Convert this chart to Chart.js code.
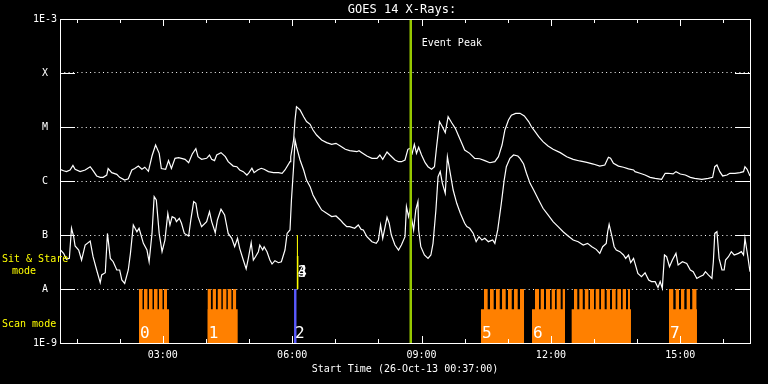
<!DOCTYPE html>
<html>
<head>
<meta charset="utf-8">
<title>GOES 14 X-Rays</title>
<script src="https://cdn.jsdelivr.net/npm/chart.js@4"></script>
<style>
  html, body { margin: 0; padding: 0; background: #000; }
  canvas { display: block; }
</style>
</head>
<body>
<canvas id="chart" width="768" height="384"></canvas>
<script>
// times: minutes after 00:00 UT, 26-Oct-13 ; flux: micro W/m^2 (1e-6)
const longTimes = [37,42,46,51,55,58,65,72,79,83,88,93,97,102,104,109,116,120,127,132,137,141,146,151,155,160,165,170,175,178,184,188,192,
  197,202,206,211,216,221,226,229,234,241,245,248,252,255,261,267,271,278,283,287,292,297,300,304,307,312,317,321,327,334,341,346,350,357,
  358,362,364,366,371,376,380,385,389,394,401,408,415,421,427,434,440,450,453,457,464,471,478,482,486,492,496,503,508,512,
  517,521,524,527,530,533,536,540,545,549,554,558,561,565,569,573,577,582,587,591,596,600,607,614,621,628,635,642,647,652,656,661,665,671,677,
  683,689,693,698,703,709,716,723,733,742,751,760,770,779,788,795,800,803,807,814,821,828,835,
  837,844,851,858,865,874,879,883,890,894,900,907,914,920,930,939,945,948,951,955,959,965,969,976,983,988,990,993,995,997];
const longFlux = [1.65,1.55,1.49,1.60,1.95,1.65,1.49,1.60,1.84,1.55,1.24,1.17,1.17,1.29,1.70,1.43,1.33,1.17,1.04,1.10,1.60,1.70,1.89,1.65,1.80,1.51,2.90,4.64,3.25,1.70,1.65,2.38,1.70,
  2.63,2.70,2.63,2.52,2.18,3.16,3.97,2.82,2.52,2.63,3.03,2.52,2.38,3.03,3.35,2.82,2.28,1.89,1.84,1.60,1.49,1.29,1.43,1.72,1.43,1.60,1.72,1.65,1.49,1.43,1.43,1.39,1.60,2.28,
  2.82,5.74,13.5,23.8,20.7,15.5,12.6,11.2,8.80,7.11,5.74,5.13,4.77,4.98,4.45,3.86,3.65,3.49,3.65,3.35,2.90,2.63,2.63,3.03,2.52,3.44,3.03,2.45,2.28,2.28,
  2.45,3.86,4.03,3.25,4.77,3.25,4.20,3.03,2.18,1.84,1.65,1.84,4.32,12.6,10.1,7.85,15.5,12.0,9.45,7.11,4.98,3.75,3.25,2.63,2.58,2.38,2.18,2.28,2.82,4.64,8.80,13.5,16.6,17.9,17.9,
  16.0,12.6,10.1,8.20,6.62,5.35,4.45,3.86,3.35,2.82,2.52,2.35,2.22,2.06,1.89,1.98,2.75,2.63,2.12,1.89,1.80,1.68,1.60,
  1.49,1.39,1.29,1.17,1.12,1.07,1.39,1.39,1.35,1.49,1.35,1.29,1.17,1.12,1.07,1.12,1.17,1.84,1.98,1.49,1.24,1.29,1.39,1.39,1.43,1.49,1.84,1.65,1.43,1.24];

const shortTimes = [37,42,46,50,53,56,58,63,67,72,79,83,88,93,95,100,103,107,111,116,120,123,127,132,135,139,144,147,153,158,161,165,168,171,175,179,183,187,190,193,
  197,199,203,206,210,216,219,223,226,229,234,241,245,248,253,256,261,266,271,276,280,284,287,292,296,299,303,306,309,313,315,319,321,325,329,332,336,341,345,350,353,357,
  359,362,364,366,371,376,380,385,389,394,401,408,415,421,427,431,436,440,447,452,456,459,464,471,477,480,483,486,492,495,498,503,508,512,517,
  519,522,524,529,532,535,536,539,544,549,553,556,560,563,566,569,573,576,580,584,589,594,600,603,607,612,616,620,624,628,633,639,642,646,651,655,658,663,668,674,677,
  682,686,691,696,703,709,716,723,730,737,744,751,758,765,771,777,783,788,792,797,799,801,805,808,811,816,821,824,828,831,835,837,
  841,846,851,856,860,865,869,872,875,878,881,885,889,894,897,903,909,914,918,923,927,932,935,939,944,946,948,951,954,958,961,963,967,971,975,981,985,988,990,994,997];
const shortFlux = [0.054,0.0457,0.0354,0.0369,0.133,0.0931,0.0625,0.0527,0.0344,0.0652,0.0773,0.0396,0.0225,0.0131,0.0182,0.0200,0.107,0.0369,0.0320,0.0225,0.0225,0.0147,0.0127,0.0225,0.0457,0.153,0.115,0.133,0.0700,0.0527,0.0320,0.107,0.513,0.445,0.107,0.0491,0.0807,0.252,0.153,0.219,
  0.204,0.177,0.204,0.165,0.107,0.0957,0.190,0.415,0.386,0.219,0.143,0.177,0.271,0.177,0.110,0.190,0.300,0.235,0.107,0.0867,0.0607,0.0867,0.0566,0.0344,0.0235,0.0369,0.0720,0.0344,0.0396,0.0491,0.0652,0.0527,0.0607,0.0491,0.0344,0.0290,0.0334,0.0307,0.0320,0.0527,0.107,0.124,
  0.445,1.84,5.74,4.32,2.45,1.60,1.04,0.785,0.551,0.415,0.291,0.252,0.219,0.225,0.190,0.165,0.143,0.143,0.133,0.153,0.127,0.124,0.0931,0.0752,0.0700,0.0807,0.153,0.0867,0.213,0.165,0.0999,0.0652,0.0527,0.0652,0.0931,
  0.335,0.219,0.291,0.124,0.291,0.415,0.124,0.0607,0.0426,0.0369,0.0426,0.0700,0.291,1.20,1.49,0.905,0.591,2.82,1.39,0.681,0.386,0.252,0.165,0.143,0.133,0.107,0.0752,0.0931,0.0807,0.0867,0.0752,0.0807,0.0700,0.124,0.386,1.04,1.84,2.63,3.03,2.90,2.63,
  2.06,1.39,0.905,0.681,0.445,0.313,0.235,0.177,0.143,0.115,0.0957,0.0807,0.0752,0.0652,0.0700,0.0607,0.0542,0.0457,0.0607,0.0700,0.115,0.157,0.0931,0.0607,0.0527,0.0491,0.0426,0.0369,0.0426,0.0307,0.0369,0.0298,
  0.0195,0.0169,0.0200,0.0147,0.0137,0.0137,0.0107,0.0137,0.0103,0.0426,0.0396,0.0259,0.0344,0.0457,0.0278,0.0320,0.0298,0.0225,0.0209,0.0157,0.0169,0.0182,0.0209,0.0182,0.0157,0.0320,0.107,0.115,0.0369,0.0225,0.0225,0.0344,0.0396,0.0491,0.0426,0.0457,0.0491,0.0426,0.0867,0.0396,0.0209];

// scan mode observations (minutes)
const scanStarts = [146.9, 242.5, 622.7, 693.7, 748.9, 884.3];
const scanEnds   = [188.7, 284.2, 682.6, 739.6, 831.4, 923.2];
const rasterStarts = [146.9,153.9,160.8,167.8,174.7,181.7, 242.5,249.5,256.5,263.5,270.5,277.5,
  626.9,635.3,643.6,652.0,660.3,668.7,677.0, 697.9,705.8,713.2,721.1,728.1,736.4,
  752.1,759.5,767.2,774.4,782.3,789.7,797.6,805.0,812.4,819.9,827.3, 884.3,893.6,901.0,908.9,916.7];
const rasterEnds = [151.8,158.7,165.7,172.7,179.6,185.9, 247.0,254.0,261.5,268.5,275.5,282.0,
  632.0,640.4,648.8,657.1,665.5,673.8,682.6, 703.4,710.4,718.8,725.7,733.6,739.6,
  756.7,764.3,772.2,780.0,787.3,794.8,802.2,810.1,817.5,824.5,830.0, 890.3,898.2,905.6,913.5,922.8];
const scanLabels = ['0', '1', '2', '5', '6', '7'];
const scanLabelTimes = [146.9, 242.5, 362.6, 622.7, 693.7, 884.3];
const obs2Start = 362.6, obs2End = 366.3;

// sit & stare observations
const stareStarts = [366.3, 366.3];
const stareEnds = [368.1, 369.0];
const stareTops = [1e-7, 4.1e-8];
const stareLabels = ['3', '4'];

const eventPeakTime = 525;   // 08:45

const yTickValues = [1e-9, 1e-8, 1e-7, 1e-6, 1e-5, 1e-4, 1e-3];
const yTickLabels = ['1E-9', 'A', 'B', 'C', 'M', 'X', '1E-3'];
const xTickValues = [60,120,180,240,300,360,420,480,540,600,660,720,780,840,900,960];
const xMajorTicks = [180, 360, 540, 720, 900];
const xMajorLabels = ['03:00', '06:00', '09:00', '12:00', '15:00'];

const chartTitle = 'GOES 14 X-Rays:';
const xTitle = 'Start Time (26-Oct-13 00:37:00)';

const ORANGE = 'rgb(255,128,0)';
const FONT = 'DejaVu Sans Mono';

// stepped outline: top from start to end, then drop to the base until the next start
function steps(starts, ends, base, top) {
  const pts = [];
  starts.forEach((s, i) => {
    pts.push({x: s, y: top}, {x: ends[i], y: base});
  });
  return pts;
}

const series = (times, vals) => times.map((t, i) => ({x: t, y: vals[i] * 1e-6}));

const fillSet = (data, color, fill) => ({
  data: data, fill: fill, stepped: 'before', backgroundColor: color, borderColor: 'rgba(0,0,0,0)',
  borderWidth: 0, pointRadius: 0
});

const goesDecor = {
  id: 'goesDecor',
  beforeDraw(chart) {
    const ctx = chart.ctx;
    ctx.save();
    ctx.fillStyle = '#000';
    ctx.fillRect(0, 0, chart.width, chart.height);
    ctx.restore();
  },
  afterDatasetsDraw(chart) {
    const {ctx, chartArea: a, scales: {x, y}} = chart;
    ctx.save();
    ctx.strokeStyle = '#fff';
    ctx.lineWidth = 1;
    ctx.strokeRect(Math.round(a.left) + 0.5, Math.round(a.top) + 0.5,
      Math.round(a.right - a.left), Math.round(a.bottom - a.top));
    ctx.beginPath();
    x.ticks.forEach(t => {
      const px = Math.round(x.getPixelForValue(t.value)) + 0.5;
      const len = xMajorTicks.includes(t.value) ? 7 : 4;
      ctx.moveTo(px, a.top); ctx.lineTo(px, a.top + len);
      ctx.moveTo(px, a.bottom); ctx.lineTo(px, a.bottom - len);
    });
    y.ticks.forEach(t => {
      const py = Math.round(y.getPixelForValue(t.value)) + 0.5;
      ctx.moveTo(a.left, py); ctx.lineTo(a.left + 15, py);
      ctx.moveTo(a.right - 15, py); ctx.lineTo(a.right, py);
    });
    ctx.stroke();

    // title + event label
    ctx.fillStyle = '#fff';
    ctx.textBaseline = 'middle';
    ctx.textAlign = 'center';
    ctx.font = '12px "' + FONT + '"';
    ctx.fillText(chartTitle, (a.left + a.right) / 2 - 3, 10);
    ctx.textAlign = 'left';
    ctx.font = '10px "' + FONT + '"';
    ctx.fillText('Event Peak', x.getPixelForValue(eventPeakTime) + 11, a.top + 24);

    // mode labels
    const yA = y.getPixelForValue(1e-8);
    ctx.fillStyle = '#ffff00';
    ctx.fillText('Sit & Stare', 2, yA - 30);
    ctx.fillText('mode', 12, yA - 18);
    ctx.fillText('Scan mode', 2, yA + 35);

    // observation numbers
    ctx.fillStyle = '#fff';
    ctx.textBaseline = 'alphabetic';
    ctx.font = '16px "' + FONT + '"';
    scanLabels.forEach((s, i) => {
      ctx.fillText(s, x.getPixelForValue(scanLabelTimes[i]) + 1, a.bottom - 5);
    });
    ctx.font = '15px "' + FONT + '"';
    stareLabels.forEach((s, i) => {
      ctx.fillText(s, x.getPixelForValue(stareStarts[i]) + 1, yA - 12);
    });
    ctx.restore();
  }
};

new Chart(document.getElementById('chart'), {
  type: 'line',
  data: {
    datasets: [
      { data: [{x: eventPeakTime, y: 1e-9}, {x: eventPeakTime, y: 1e-3}],
        borderColor: 'rgb(150,200,0)', borderWidth: 2.5, pointRadius: 0, fill: false },
      { data: series(longTimes, longFlux), borderColor: '#fff', borderWidth: 1.2, pointRadius: 0, tension: 0, fill: false },
      { data: series(shortTimes, shortFlux), borderColor: '#fff', borderWidth: 1.2, pointRadius: 0, tension: 0, fill: false },
      fillSet(steps([stareStarts[0]], [stareEnds[0]], 1e-8, stareTops[0]), '#ffff00', {value: 1e-8}),
      fillSet(steps([stareStarts[1]], [stareEnds[1]], 1e-8, stareTops[1]), '#ffff00', {value: 1e-8}),
      fillSet(steps([obs2Start], [obs2End], 1e-9, 1e-8), 'rgb(90,90,255)', 'start'),
      fillSet(steps(rasterStarts, rasterEnds, 1e-9, 1e-8), ORANGE, 'start'),
      fillSet(steps(scanStarts, scanEnds, 1e-9, 4.2e-9), ORANGE, 'start')
    ]
  },
  options: {
    responsive: false,
    animation: false,
    devicePixelRatio: 1,
    layout: { padding: { top: 19, right: 18, left: 0, bottom: 0 } },
    plugins: { legend: { display: false }, tooltip: { enabled: false }, title: { display: false } },
    scales: {
      x: {
        type: 'linear', min: 37, max: 997,
        afterBuildTicks: s => { s.ticks = xTickValues.map(v => ({value: v})); },
        afterFit: s => { s.height = 41; },
        grid: { display: false, drawTicks: false },
        border: { display: false },
        ticks: {
          color: '#fff', padding: 6, maxRotation: 0, autoSkip: false,
          font: { family: FONT, size: 10 },
          callback: v => { const i = xMajorTicks.indexOf(v); return i < 0 ? '' : xMajorLabels[i]; }
        },
        title: { display: true, text: xTitle, color: '#fff', font: { family: FONT, size: 10 }, padding: { top: 0, bottom: 9 } }
      },
      y: {
        type: 'logarithmic', min: 1e-9, max: 1e-3,
        afterBuildTicks: s => { s.ticks = yTickValues.map(v => ({value: v})); },
        afterFit: s => { s.width = 60; },
        grid: { color: '#fff', lineWidth: 1, drawTicks: false },
        border: { display: false, dash: [1, 3.3] },
        ticks: {
          color: '#fff', padding: 3, crossAlign: 'center',
          font: { family: FONT, size: 10 },
          callback: (v, i) => yTickLabels[i]
        }
      }
    }
  },
  plugins: [goesDecor]
});
</script>
</body>
</html>
